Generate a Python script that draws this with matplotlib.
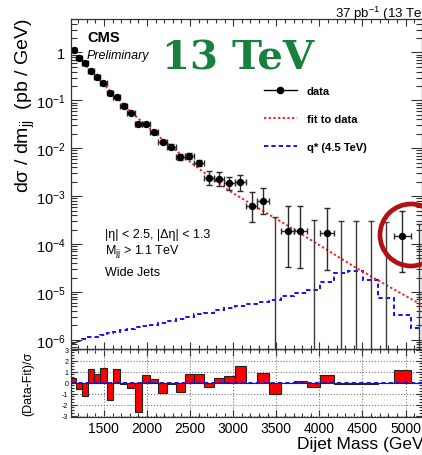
import numpy as np
import matplotlib
matplotlib.use("Agg")
import matplotlib.pyplot as plt
from matplotlib.ticker import MultipleLocator, LogLocator, FuncFormatter, NullFormatter
from matplotlib.lines import Line2D
from matplotlib.patches import Ellipse

plt.rcParams['font.family'] = ['Liberation Sans', 'DejaVu Sans']
plt.rcParams['mathtext.default'] = 'regular'
plt.rcParams['axes.unicode_minus'] = False

# dijet mass bins (GeV)
bin_edges = [1118, 1181, 1246, 1313, 1383, 1455, 1530, 1607, 1687, 1770, 1856,
             1945, 2037, 2132, 2231, 2332, 2438, 2546, 2659, 2775, 2895, 3019,
             3147, 3279, 3416, 3558, 3704, 3854, 4010, 4171, 4337, 4509, 4686,
             4869, 5058, 5253]

# measured cross section (pb/GeV), 0 = empty bin
xsec = [1.13, 0.77, 0.595, 0.417, 0.303, 0.227, 0.143, 0.118, 0.0774, 0.0538,
        0.0318, 0.0318, 0.0216, 0.0133, 0.0108, 0.00648, 0.00681, 0.00493,
        0.0024, 0.00229, 0.00186, 0.00195, 0.00063, 0.00081, 0, 0.00019,
        0.000185, 0, 0.00017, 0, 0, 0, 0, 0.000146, 0]
xsec_lo = [1.10, 0.75, 0.58, 0.405, 0.293, 0.219, 0.137, 0.113, 0.0735, 0.0508,
           0.0296, 0.0296, 0.0199, 0.0121, 0.0097, 0.0056, 0.0059, 0.0042,
           0.00171, 0.00166, 0.00137, 0.0013, 0.000294, 0.000419, 0, 3.28e-5,
           3.2e-5, 0, 2.9e-5, 0, 0, 0, 0, 2.6e-5, 0]
xsec_hi = [1.16, 0.79, 0.61, 0.43, 0.313, 0.235, 0.149, 0.123, 0.0815, 0.057,
           0.034, 0.034, 0.0234, 0.0146, 0.012, 0.0075, 0.0079, 0.0058,
           0.0034, 0.00325, 0.00248, 0.00281, 0.00124, 0.00146, 0.000363, 0.000634,
           0.000624, 0.000323, 0.000559, 0.00031, 0.000305, 0.0003, 0.00029,
           0.000498, 0.000263]

# fit to data
fit_mass = [1118, 1300, 1500, 1800, 2100, 2400, 2700, 3000, 3300, 3600, 4000,
            4400, 4800, 5200]
fit_xsec = [1.23, 0.513, 0.214, 0.0603, 0.02, 0.00724, 0.00275, 0.00115,
            5.5e-4, 2.63e-4, 9.5e-5, 3.4e-5, 1.32e-5, 5.2e-6]

# q* (4.5 TeV) signal shape
qstar = [8.5e-7, 9.3e-7, 1.02e-6, 1.12e-6, 1.17e-6, 1.29e-6, 1.41e-6, 1.48e-6,
         1.58e-6, 1.66e-6, 1.82e-6, 1.95e-6, 2.09e-6, 2.24e-6, 2.45e-6, 2.69e-6,
         3.02e-6, 3.39e-6, 3.72e-6, 4.17e-6, 4.68e-6, 5.13e-6, 5.62e-6, 6.31e-6,
         6.92e-6, 8.3e-6, 9.3e-6, 1.12e-5, 1.58e-5, 2.45e-5, 2.75e-5, 1.74e-5,
         7.4e-6, 3.3e-6, 1.78e-6]

# (Data-Fit)/sigma
pulls = [0.4, -0.6, -1.25, 1.27, 0.76, 1.33, -1.55, 1.21, -0.1, -0.45, -2.64,
         0.67, 0.3, -0.94, -0.1, -0.85, 0.78, 0.78, -0.42, 0.38, 0.58, 1.47,
         -0.07, 0.85, -1.02, -0.06, 0.15, -0.36, 0.73, -0.16, -0.08, -0.08,
         -0.03, 1.13, -0.02]

W, H = 422, 456
fig = plt.figure(figsize=(W / 100, H / 100), dpi=100)
ax = fig.add_axes([71 / W, 1 - 349.5 / H, 350.5 / W, 329.5 / H])
ax2 = fig.add_axes([71 / W, 1 - 418.3 / H, 350.5 / W, 68.8 / H])

edges = np.array(bin_edges, dtype=float)
centers = 0.5 * (edges[:-1] + edges[1:])
half = 0.5 * np.diff(edges)
y = np.array(xsec)
lo = np.array(xsec_lo)
hi = np.array(xsec_hi)
full = y > 0
empty = ~full

# main panel
ax.stairs(qstar, edges, color='#1010ff', lw=1.4, ls=(0, (2.2, 1.6)), baseline=None)
ax.plot(fit_mass, fit_xsec, color='#ff2020', lw=1.4, ls=(0, (1.2, 1.2)))
ax.errorbar(centers[empty], hi[empty], yerr=[hi[empty] - 1e-12, np.zeros(empty.sum())],
            fmt='none', ecolor='#3a3a3a', elinewidth=1.0, capsize=2.2)
ax.errorbar(centers[full], y[full], xerr=half[full],
            yerr=[y[full] - lo[full], hi[full] - y[full]],
            fmt='o', color='black', ms=4.3, ecolor='#2a2a2a', elinewidth=1.0, capsize=2.2)

ax.set_yscale('log')
ax.set_xlim(1118, 5185)
ax.set_ylim(6.6e-7, 5.0)
ax.xaxis.set_major_locator(MultipleLocator(500))
ax.xaxis.set_minor_locator(MultipleLocator(100))
ax.xaxis.set_major_formatter(NullFormatter())
ax.yaxis.set_major_locator(LogLocator(base=10, numticks=20))
ax.yaxis.set_minor_locator(LogLocator(base=10, subs=np.arange(2, 10), numticks=20))
ax.yaxis.set_minor_formatter(NullFormatter())
ax.yaxis.set_major_formatter(FuncFormatter(
    lambda v, p: '1' if abs(v - 1) < 1e-9 else '$10^{%d}$' % round(np.log10(v))))
ax.tick_params(which='both', direction='in', top=True, right=True, width=0.8, color='#333333')
ax.tick_params(axis='y', which='major', length=8, labelsize=10.5, pad=4)
ax.tick_params(axis='y', which='minor', length=4)
ax.tick_params(axis='x', which='major', length=5)
ax.tick_params(axis='x', which='minor', length=2.8)
for s in ax.spines.values():
    s.set_linewidth(0.9)
    s.set_color('#333333')

handles = [Line2D([], [], color='black', marker='o', ms=4.5, lw=1),
           Line2D([], [], color='#ff2020', lw=1.4, ls=(0, (1.2, 1.2))),
           Line2D([], [], color='#1010ff', lw=1.4, ls=(0, (2.2, 1.6)))]
ax.legend(handles, ['data', 'fit to data', 'q* (4.5 TeV)'], frameon=False,
          loc='upper left', bbox_to_anchor=(258 / W, 1 - 81 / H),
          bbox_transform=fig.transFigure, prop={'weight': 'bold', 'size': 8},
          handlelength=3.0, handletextpad=0.9, labelspacing=1.65, borderpad=0)

ax.text(105 / W, 1 - 235 / H, '|η| < 2.5, |Δη| < 1.3', transform=fig.transFigure,
        fontsize=9, va='center')
ax.text(105 / W, 1 - 251 / H, 'M$_{jj}$ > 1.1 TeV', transform=fig.transFigure,
        fontsize=9, va='center')
ax.text(105 / W, 1 - 273 / H, 'Wide Jets', transform=fig.transFigure,
        fontsize=9, va='center')

# ratio panel
ax2.bar(edges[:-1], pulls, width=np.diff(edges), align='edge', color='#ff0000',
        edgecolor='#222222', lw=0.8)
ax2.axhline(0, color='#1010ff', lw=1.4, ls=(0, (2.2, 1.6)))
ax2.set_xlim(1118, 5185)
ax2.set_ylim(-3.15, 3.1)
ax2.xaxis.set_major_locator(MultipleLocator(500))
ax2.xaxis.set_minor_locator(MultipleLocator(100))
ax2.yaxis.set_major_locator(MultipleLocator(1))
ax2.yaxis.set_minor_locator(MultipleLocator(0.25))
ax2.grid(True, which='major', ls=':', color='#777777', lw=0.8)
ax2.set_axisbelow(True)
ax2.tick_params(which='both', direction='in', top=True, right=True, width=0.8, color='#333333')
ax2.tick_params(axis='y', which='major', length=4, labelsize=5, pad=2)
ax2.tick_params(axis='y', which='minor', length=2)
ax2.tick_params(axis='x', which='major', length=5, labelsize=10, pad=3)
ax2.tick_params(axis='x', which='minor', length=2.8)
for s in ax2.spines.values():
    s.set_linewidth(0.9)
    s.set_color('#333333')

# labels and titles
fig.text(25 / W, 1 - 18 / H, 'dσ / dm$_{jj}$  (pb / GeV)', rotation=90,
         ha='center', va='top', fontsize=14)
fig.text(28 / W, 1 - 384 / H, '(Data-Fit)/σ', rotation=90, ha='center',
         va='center', fontsize=9)
fig.text(297 / W, 1 - 445 / H, 'Dijet Mass (GeV)', ha='left', va='center', fontsize=12.5)
fig.text(335 / W, 1 - 14 / H, '37 pb$^{-1}$ (13 TeV)', ha='left', va='center', fontsize=9.5)
fig.text(87 / W, 1 - 38 / H, 'CMS', ha='left', va='center', fontsize=10.5, weight='bold')
fig.text(87 / W, 1 - 56 / H, 'Preliminary', ha='left', va='center', fontsize=9, style='italic')
fig.text(238 / W, 1 - 58 / H, '13 TeV', ha='center', va='center', fontsize=29,
         family='DejaVu Serif', weight='bold', color='#16803c')

fig.add_artist(Ellipse((411 / W, 1 - 236 / H), 62 / W, 62 / H, transform=fig.transFigure,
                       fill=False, ec='#b01212', lw=3.4))

fig.savefig('out.png', dpi=100)
